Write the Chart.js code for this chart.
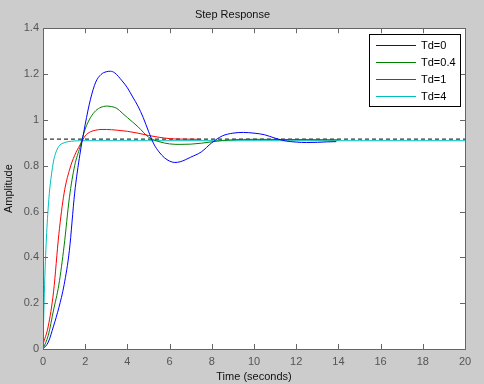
<!DOCTYPE html>
<html>
<head>
<meta charset="utf-8">
<script src="https://cdn.jsdelivr.net/npm/chart.js@4/dist/chart.umd.min.js"></script>
<style>
  html, body { margin: 0; padding: 0; background: #cccccc; }
  #wrap { width: 484px; height: 384px; }
</style>
</head>
<body>
<div id="wrap"><canvas id="step-graph" width="484" height="384"></canvas></div>
<script>
// series (time in seconds, amplitude)
const seriesLabels = ['Td=0', 'Td=0.4', 'Td=1', 'Td=4'];

const timeTd0 = [0, 0.25, 0.5, 0.75, 1.0, 1.25, 1.5, 1.75, 2.0, 2.25, 2.5, 2.75, 3.0, 3.2, 3.4, 3.75, 4.0, 4.25, 4.5, 4.75, 5.0, 5.25, 5.5, 5.75, 6.0, 6.25, 6.5, 6.75, 7.0, 7.5, 8.0, 8.5, 9.0, 9.5, 10, 10.5, 11, 11.5, 12, 12.5, 13, 13.5, 13.9];
const ampTd0 = [0, 0.03, 0.1, 0.18, 0.28, 0.43, 0.68, 0.85, 0.98, 1.09, 1.165, 1.198, 1.21, 1.212, 1.205, 1.17, 1.14, 1.1, 1.06, 1.01, 0.95, 0.895, 0.86, 0.835, 0.82, 0.814, 0.817, 0.826, 0.837, 0.86, 0.9, 0.93, 0.942, 0.945, 0.942, 0.935, 0.92, 0.908, 0.903, 0.901, 0.902, 0.904, 0.905];

const timeTd04 = [0, 0.25, 0.5, 0.75, 1.0, 1.25, 1.5, 1.75, 2.0, 2.25, 2.5, 2.75, 3.0, 3.25, 3.5, 3.75, 4.0, 4.5, 5.0, 5.5, 6.0, 6.5, 7.0, 7.5, 8.0, 8.5, 9, 10, 12, 14];
const ampTd04 = [0, 0.06, 0.17, 0.28, 0.45, 0.66, 0.8, 0.88, 0.96, 1.01, 1.04, 1.055, 1.06, 1.058, 1.05, 1.03, 1.01, 0.97, 0.925, 0.905, 0.895, 0.893, 0.894, 0.898, 0.904, 0.91, 0.913, 0.915, 0.914, 0.913];

const timeTd1 = [0, 0.25, 0.5, 0.75, 1.0, 1.25, 1.5, 1.75, 2.0, 2.25, 2.5, 2.75, 3.0, 3.5, 4.0, 4.5, 5.0, 5.5, 6.0, 6.5, 7.5];
const ampTd1 = [0.02, 0.1, 0.25, 0.5, 0.68, 0.78, 0.845, 0.89, 0.93, 0.948, 0.955, 0.958, 0.958, 0.955, 0.95, 0.942, 0.932, 0.924, 0.918, 0.916, 0.915];

const timeTd4 = [0, 0.05, 0.1, 0.15, 0.2, 0.25, 0.3, 0.4, 0.5, 0.6, 0.7, 0.8, 1.0, 1.2, 1.5, 2, 5, 10, 15, 20];
const ampTd4 = [0, 0.2, 0.35, 0.46, 0.55, 0.62, 0.68, 0.76, 0.82, 0.855, 0.877, 0.89, 0.9, 0.905, 0.908, 0.909, 0.909, 0.909, 0.909, 0.909];

const finalValue = 0.916;
const timeRange = [0, 20];
const xTicks = [0, 2, 4, 6, 8, 10, 12, 14, 16, 18, 20];
const yTicks = [0, 0.2, 0.4, 0.6, 0.8, 1, 1.2, 1.4];

const lineColors = ['#0000ff', '#008000', '#ff0000', '#00bfbf'];

function toPoints(ts, vs) {
  return ts.map((t, i) => ({ x: t, y: vs[i] }));
}

const allTimes = [timeTd0, timeTd04, timeTd1, timeTd4];
const allAmps = [ampTd0, ampTd04, ampTd1, ampTd4];

const datasets = seriesLabels.map((lbl, i) => ({
  label: lbl,
  data: toPoints(allTimes[i], allAmps[i]),
  borderColor: lineColors[i],
  borderWidth: 1,
  pointRadius: 0,
  fill: false,
  cubicInterpolationMode: 'monotone'
}));

// dashed steady-state line
datasets.push({
  label: 'final',
  data: timeRange.map(t => ({ x: t, y: finalValue })),
  borderColor: '#000000',
  borderWidth: 1,
  borderDash: [4, 3],
  pointRadius: 0,
  fill: false
});

const axisColor = '#666666';
const tickLen = 5;

// white plot box, frame, inward ticks and boxed legend like the MATLAB figure
const matlabAxes = {
  id: 'matlabAxes',
  beforeDraw(chart) {
    const a = chart.chartArea;
    const ctx = chart.ctx;
    ctx.save();
    ctx.fillStyle = '#cccccc';
    ctx.fillRect(0, 0, chart.width, chart.height);
    ctx.fillStyle = '#ffffff';
    ctx.fillRect(a.left, a.top, a.right - a.left, a.bottom - a.top);
    ctx.restore();
  },
  afterDatasetsDraw(chart) {
    const a = chart.chartArea;
    const ctx = chart.ctx;
    const xs = chart.scales.x;
    const ys = chart.scales.y;
    ctx.save();
    ctx.strokeStyle = axisColor;
    ctx.lineWidth = 1;
    ctx.beginPath();
    xTicks.forEach(v => {
      const px = Math.round(xs.getPixelForValue(v)) + 0.5;
      ctx.moveTo(px, a.bottom);
      ctx.lineTo(px, a.bottom - tickLen);
      ctx.moveTo(px, a.top);
      ctx.lineTo(px, a.top + tickLen);
    });
    yTicks.forEach(v => {
      const py = Math.round(ys.getPixelForValue(v)) + 0.5;
      ctx.moveTo(a.left, py);
      ctx.lineTo(a.left + tickLen, py);
      ctx.moveTo(a.right, py);
      ctx.lineTo(a.right - tickLen, py);
    });
    ctx.stroke();
    ctx.strokeRect(Math.round(a.left) + 0.5, Math.round(a.top) + 0.5,
      Math.round(a.right - a.left), Math.round(a.bottom - a.top));

    // legend
    const boxW = 91, boxH = 72;
    const bx = Math.round(a.right) - 5 - boxW;
    const by = Math.round(a.top) + 6;
    ctx.fillStyle = '#ffffff';
    ctx.fillRect(bx, by, boxW, boxH);
    ctx.strokeStyle = '#000000';
    ctx.strokeRect(bx + 0.5, by + 0.5, boxW, boxH);
    ctx.font = '11px "Liberation Sans", Arial, sans-serif';
    ctx.textBaseline = 'middle';
    ctx.textAlign = 'left';
    seriesLabels.forEach((lbl, i) => {
      const cy = by + 10.5 + i * 17.2;
      const ly = Math.round(cy) + 0.5;
      ctx.strokeStyle = lineColors[i];
      ctx.beginPath();
      ctx.moveTo(bx + 7, ly);
      ctx.lineTo(bx + 47, ly);
      ctx.stroke();
      ctx.fillStyle = '#000000';
      ctx.fillText(lbl, bx + 52, cy + 1);
    });
    ctx.restore();
  }
};

const tickFont = { family: '"Liberation Sans", Arial, sans-serif', size: 11 };

const chart = new Chart(document.getElementById('step-graph').getContext('2d'), {
  type: 'line',
  data: { datasets: datasets },
  options: {
    responsive: false,
    animation: false,
    layout: { padding: { left: 0, right: 19, top: 0, bottom: 0 } },
    plugins: {
      legend: { display: false },
      tooltip: { enabled: false },
      title: {
        display: true,
        text: 'Step Response',
        color: '#111111',
        font: { family: tickFont.family, size: 11, weight: 'normal' },
        padding: { top: 8, bottom: 7 }
      }
    },
    scales: {
      x: {
        type: 'linear',
        min: timeRange[0],
        max: timeRange[1],
        afterFit(scale) { scale.height = 35; },
        afterBuildTicks(scale) { scale.ticks = xTicks.map(v => ({ value: v })); },
        grid: { display: false, drawTicks: false },
        border: { display: false },
        ticks: { color: '#555555', font: tickFont, padding: 6, maxRotation: 0 },
        title: {
          display: true,
          text: 'Time (seconds)',
          color: '#111111',
          font: tickFont,
          padding: { top: 0, bottom: 0 }
        }
      },
      y: {
        type: 'linear',
        min: 0,
        max: 1.4,
        afterFit(scale) { scale.width = 43; },
        afterBuildTicks(scale) { scale.ticks = yTicks.map(v => ({ value: v })); },
        grid: { display: false, drawTicks: false },
        border: { display: false },
        ticks: {
          color: '#555555',
          font: tickFont,
          padding: 4,
          callback: v => String(Math.round(v * 10) / 10)
        },
        title: {
          display: true,
          text: 'Amplitude',
          color: '#111111',
          font: tickFont,
          padding: { top: 2, bottom: 0 }
        }
      }
    }
  },
  plugins: [matlabAxes]
});
</script>
</body>
</html>
